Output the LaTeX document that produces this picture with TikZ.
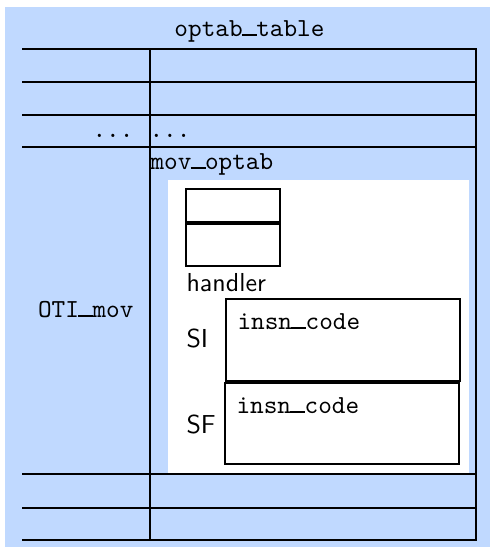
\documentclass[tikz,border=0pt]{standalone}
\usepackage{tikz}
\usetikzlibrary{positioning}
\definecolor{colorPanel}{RGB}{192,217,255}
\newcommand{\us}{\makebox[0.525em][c]{\rule{0.58em}{0.07em}}}
\tikzset{
  rule/.style={line width=0.9pt, line cap=rect},
  slotbox/.style={draw, line width=0.7pt},
  ttlabel/.style={font=\ttfamily, inner sep=0pt},
  sflabel/.style={font=\sffamily, inner sep=0pt},
}

\begin{document}
\begin{tikzpicture}[x=0.385pt, y=-0.385pt]
\useasboundingbox (0,0) rectangle (490,547);
\fill[colorPanel] (5,7) rectangle (490,547);
\fill[white] (168,180) rectangle (469,474);
% outer table
\foreach \y in {49,82,115,147,474,508,540}
  \draw[rule] (23,\y) -- (476,\y);
\draw[rule] (150,49) -- (150,540);
\draw[rule] (476,49) -- (476,540);
\node[ttlabel, anchor=base] (title) at (249.5,36) {optab\us table};
\node[ttlabel, anchor=base east] (dotsL) at (134,137) {...};
\node[ttlabel, anchor=base west] (dotsR) at (149,137) {...};
\node[ttlabel, anchor=base east] (oti) at (134,317) {OTI\us mov};
\node[ttlabel, anchor=base west] (movOptab) at (150,169) {mov\us optab};
% handler slots
\draw[slotbox] (186,189) rectangle (280,222);
\draw[slotbox] (186,224) rectangle (280,266);
\node[sflabel, anchor=base west] (handler) at (186,291) {handler};
% modes
\draw[slotbox] (226,299) rectangle (460,381);
\draw[slotbox] (225,383) rectangle (459,464);
\node[sflabel, anchor=base west] (si) at (186,347) {SI};
\node[sflabel, anchor=base west] (sf) at (186,433) {SF};
\node[ttlabel, anchor=base west] (siCode) at (237,329) {insn\us code};
\node[ttlabel, anchor=base west] (sfCode) at (236,413) {insn\us code};
\end{tikzpicture}
\end{document}
